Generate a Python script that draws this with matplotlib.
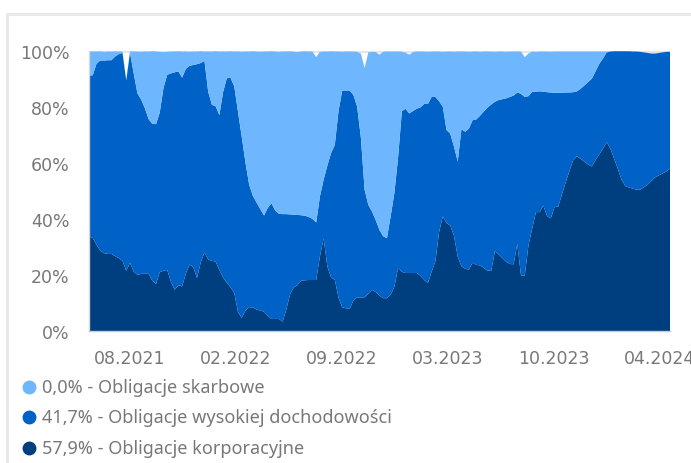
import matplotlib
matplotlib.use("Agg")
import matplotlib.pyplot as plt
import matplotlib.dates as mdates
from matplotlib.lines import Line2D
import pandas as pd
import numpy as np

plt.rcParams['font.family'] = ['Noto Sans', 'DejaVu Sans']

start_date = '2021-05-16'
n_weeks = 157

korporacyjne = [
    33.8, 33.2, 30.8, 28.7, 27.8, 27.5, 27.5, 26.7, 26.0, 25.0,
    21.5, 24.3, 21.2, 20.0, 20.4, 20.4, 20.4, 17.9, 16.8, 21.0,
    21.5, 21.8, 17.6, 14.7, 16.3, 15.9, 20.5, 23.7, 22.8, 18.9,
    24.5, 28.0, 25.5, 25.0, 24.8, 21.8, 19.1, 17.2, 15.6, 13.6,
    6.8, 4.7, 7.3, 8.5, 8.4, 7.6, 7.3, 6.9, 5.4, 4.3,
    4.3, 4.3, 3.3, 7.8, 13.1, 15.6, 16.4, 18.0, 18.1, 18.2,
    18.2, 18.2, 26.6, 33.0, 23.0, 19.1, 18.3, 11.9, 8.4, 8.1,
    7.9, 10.9, 12.0, 12.0, 12.0, 13.3, 14.7, 13.9, 12.6, 11.7,
    11.7, 13.0, 15.8, 22.6, 21.1, 20.7, 20.7, 20.7, 20.7, 19.7,
    18.2, 17.1, 21.2, 24.8, 35.3, 40.9, 38.5, 37.6, 34.0, 26.5,
    23.1, 22.2, 21.9, 24.4, 23.6, 23.4, 22.5, 21.5, 21.5, 28.6,
    27.3, 26.0, 24.7, 23.9, 23.8, 31.0, 19.8, 19.8, 30.6, 36.6,
    42.4, 42.4, 44.7, 41.0, 40.2, 44.2, 44.4, 48.8, 53.1, 57.1,
    60.9, 62.4, 61.4, 60.4, 59.4, 58.7, 61.0, 63.0, 65.0, 67.4,
    65.0, 61.5, 57.8, 54.0, 51.7, 51.2, 50.8, 50.4, 50.4, 51.3,
    52.2, 53.5, 54.8, 55.5, 56.2, 56.9, 57.9,
]

wysokiej_dochodowosci = [
    57.4, 58.0, 64.5, 67.8, 68.7, 69.1, 69.1, 71.2, 72.8, 74.2,
    67.9, 75.0, 70.8, 64.8, 62.2, 59.1, 55.2, 56.0, 57.0, 57.0,
    65.2, 69.6, 74.3, 77.6, 76.3, 74.5, 73.0, 70.9, 72.1, 76.3,
    71.1, 68.4, 59.9, 55.7, 55.4, 55.2, 66.1, 73.0, 74.7, 73.7,
    71.5, 64.7, 52.9, 43.7, 39.8, 38.2, 36.2, 34.3, 38.5, 41.3,
    38.7, 37.5, 38.4, 33.9, 28.5, 25.9, 25.0, 23.3, 23.0, 22.5,
    21.8, 20.5, 21.4, 21.0, 36.0, 44.4, 48.1, 66.6, 77.4, 77.7,
    77.9, 73.3, 68.0, 57.0, 38.4, 31.7, 27.9, 25.6, 23.4, 22.1,
    21.4, 28.0, 33.5, 39.4, 57.3, 58.6, 56.9, 57.8, 58.6, 60.1,
    62.8, 63.9, 62.3, 58.7, 46.7, 39.1, 33.2, 32.8, 31.8, 34.0,
    48.9, 48.9, 50.3, 50.8, 51.9, 53.4, 55.8, 58.2, 59.3, 53.2,
    55.1, 56.7, 58.3, 59.6, 60.2, 54.1, 64.8, 63.7, 53.2, 48.7,
    43.0, 43.1, 40.7, 44.2, 44.9, 40.8, 40.6, 36.2, 32.0, 28.0,
    24.3, 23.1, 25.0, 27.2, 29.4, 31.3, 31.6, 32.3, 32.2, 32.0,
    34.7, 38.3, 42.0, 45.8, 48.1, 48.6, 48.9, 49.3, 49.2, 48.1,
    47.0, 45.5, 44.2, 43.7, 43.2, 42.7, 41.7,
]

skarbowe = [
    8.5, 8.5, 4.4, 3.3, 3.1, 3.1, 3.1, 1.9, 0.9, 0.5,
    0.0, 0.5, 7.7, 14.9, 17.0, 20.2, 24.1, 25.9, 25.9, 21.6,
    12.8, 8.2, 7.8, 7.4, 7.2, 9.3, 6.2, 5.0, 4.8, 4.5,
    4.2, 3.3, 14.3, 19.0, 19.6, 22.7, 14.5, 9.5, 9.5, 12.4,
    21.4, 30.2, 39.5, 47.5, 51.6, 53.9, 56.1, 58.5, 55.8, 54.2,
    56.7, 57.8, 58.0, 58.0, 58.2, 58.1, 58.1, 58.4, 58.7, 59.0,
    59.7, 59.0, 51.6, 45.7, 40.7, 36.3, 33.3, 21.2, 13.8, 13.9,
    13.9, 15.5, 19.6, 30.0, 43.4, 54.4, 57.0, 60.0, 62.6, 65.8,
    66.6, 58.7, 50.4, 37.7, 21.2, 20.0, 21.0, 21.0, 20.4, 19.9,
    18.7, 18.6, 16.2, 16.2, 17.7, 19.6, 28.0, 29.3, 33.8, 39.2,
    27.7, 28.6, 27.4, 24.5, 24.2, 22.8, 21.4, 20.0, 18.9, 17.8,
    17.3, 17.0, 16.6, 16.2, 15.7, 14.6, 15.1, 14.2, 15.2, 14.4,
    14.2, 14.2, 14.3, 14.5, 14.5, 14.7, 14.7, 14.7, 14.6, 14.6,
    14.5, 14.2, 13.3, 12.1, 10.9, 9.7, 7.1, 4.4, 2.5, 0.3,
    0.0, 0.0, 0.0, 0.0, 0.0, 0.0, 0.0, 0.0, 0.0, 0.0,
    0.0, 0.0, 0.0, 0.0, 0.0, 0.0, 0.0,
]

tick_dates = ['2021-08-01', '2022-02-16', '2022-09-03', '2023-03-21', '2023-10-06', '2024-04-22']
yticks = [0, 20, 40, 60, 80, 100]

legend_labels = ['0,0% - Obligacje skarbowe',
                 '41,7% - Obligacje wysokiej dochodowości',
                 '57,9% - Obligacje korporacyjne']

c_skarb = '#6EB6FE'
c_wys = '#0061C6'
c_korp = '#003F7F'
text_c = '#787878'

dates = pd.date_range(start_date, periods=n_weeks, freq='7D')

W, H = 691, 464
fig = plt.figure(figsize=(W / 100, H / 100), dpi=100)
ax = fig.add_axes([89 / W, (H - 332) / H, (670 - 89) / W, (332 - 51.7) / H])

ax.axhline(100, color='#e4e4e4', lw=2, zorder=0)
ax.stackplot(dates, korporacyjne, wysokiej_dochodowosci, skarbowe,
             colors=[c_korp, c_wys, c_skarb], linewidth=0, zorder=2)

ax.set_xlim(dates[0], dates[-1])
ax.set_ylim(0, 100)
ax.set_yticks(yticks)
ax.set_yticklabels([f'{v}%' for v in yticks])
ax.set_xticks(pd.to_datetime(tick_dates))
ax.xaxis.set_major_formatter(mdates.DateFormatter('%m.%Y'))
ax.tick_params(axis='both', length=0, labelsize=12.5, colors=text_c)
ax.tick_params(axis='y', pad=14)
ax.tick_params(axis='x', pad=13)
for lbl in ax.get_xticklabels() + ax.get_yticklabels():
    lbl.set_family(['DejaVu Sans'])
for s in ['top', 'right']:
    ax.spines[s].set_visible(False)
ax.spines['left'].set_color('#d8d8d8')
ax.spines['left'].set_linewidth(1)
ax.spines['bottom'].set_color('#b9cde3')
ax.spines['bottom'].set_linewidth(1)

# outer card border
fig.add_artist(Line2D([7 / W, 7 / W], [0, (H - 15) / H], color='#e8e8e8', lw=2))
fig.add_artist(Line2D([7 / W, 1], [(H - 15) / H, (H - 15) / H], color='#e8e8e8', lw=2))

# legend
leg_y = [388, 418, 449]
for y, lab, c in zip(leg_y, legend_labels, [c_skarb, c_wys, c_korp]):
    fig.add_artist(Line2D([29 / W], [(H - y) / H], marker='o', markersize=10,
                          color=c, markeredgewidth=0, linestyle='none'))
    fig.text(42 / W, (H - y) / H, lab, fontsize=13, color=text_c,
             va='center', ha='left')

fig.savefig('out.png', dpi=100)
